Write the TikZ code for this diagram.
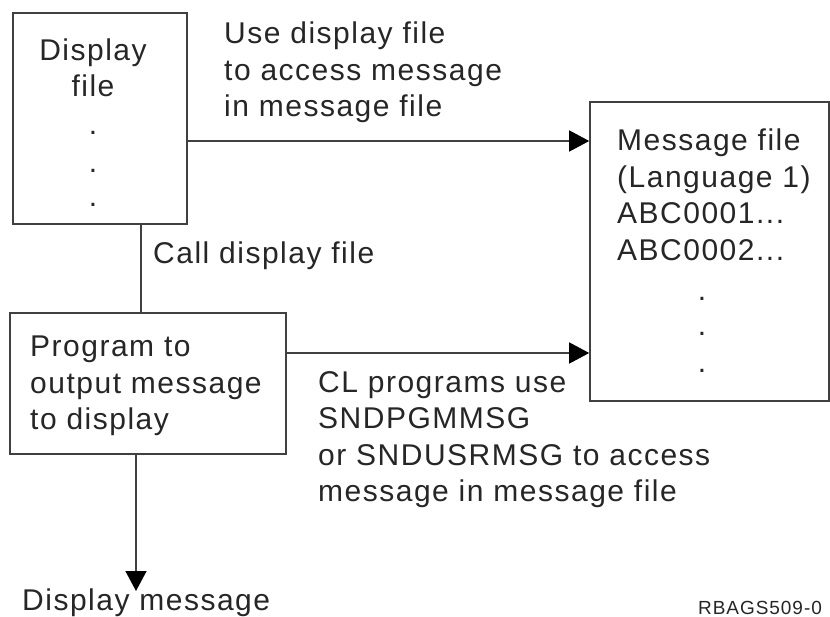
\documentclass[tikz,border=0pt]{standalone}
\usepackage{fontspec}
\setmainfont[LetterSpace=5]{Liberation Sans}
\usetikzlibrary{positioning,arrows.meta}

\begin{document}
\begin{tikzpicture}[x=1pt,y=-1pt,>={Triangle[length=20pt,width=21pt,color=black]}]
    \tikzstyle{box}=[draw=black!75,line width=1.6pt,inner sep=0pt]
    \tikzstyle{txt}=[font=\fontsize{30}{36.5}\selectfont,text=black!85,inner sep=0pt,align=left]
    \tikzstyle{link}=[draw=black!75,line width=1.5pt]
    \useasboundingbox (0,0) rectangle (830,617);
    % boxes
    \node[box,minimum width=174pt,minimum height=211pt](disp) at (100,118.5){};
    \node[box,minimum width=276pt,minimum height=141pt](prog) at (148,383.5){};
    \node[box,minimum width=239pt,minimum height=299pt](msg) at (709.5,251.5){};
    % box texts
    \node[txt,align=center](disptxt) at (93,68){Display\\file};
    \foreach \y in {133,171,205}
        \node[txt](dd\y) at (93,\y){.};
    \node[txt,anchor=north west](progtxt) at (30,336){Program to\\output message\\to display};
    \node[txt,anchor=north west](msgtxt) at (617,129){Message file\\(Language 1)\\ABC0001.{}.{}.\\ABC0002.{}.{}.};
    \foreach \y in {299,334,371}
        \node[txt](md\y) at (702,\y){.};
    % connectors
    \draw[link,->] (disp.east |- 0,141) -- (msg.west |- 0,141);
    \draw[link,->] (prog.east |- 0,353) -- (msg.west |- 0,353);
    \draw[link] (disp.south -| 141,0) -- (prog.north -| 141,0);
    \node[txt,anchor=north west](show) at (22,589){Display message};
    \draw[link,->] (prog.south -| 136,0) -- ([yshift=-2pt]show.north -| 136,0);
    % labels
    \node[txt,anchor=north west](uselbl) at (224,22){Use display file\\to access message\\in message file};
    \node[txt,anchor=north west](calllbl) at (153,242){Call display file};
    \node[txt,anchor=north west](cllbl) at (318,371){CL programs use\\SNDPGMMSG\\or SNDUSRMSG to access\\message in message file};
    \node[font=\fontsize{19}{20}\selectfont,text=black!85,inner sep=0pt,anchor=north west](figid) at (698,601){RBAGS509-0};
\end{tikzpicture}
\end{document}
